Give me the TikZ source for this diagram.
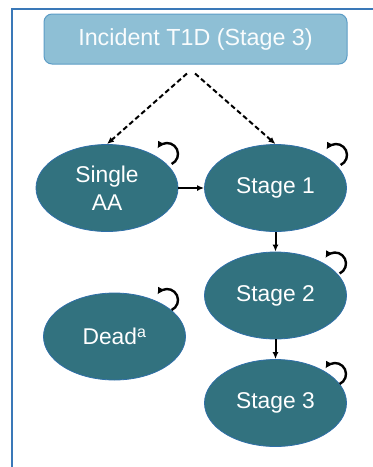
\documentclass[tikz,border=0pt]{standalone}
\usepackage{fontspec}
\setmainfont{Liberation Sans}
\usetikzlibrary{shapes.geometric,arrows.meta}
\definecolor{framecol}{HTML}{3A78B8}
\definecolor{topfill}{HTML}{8EBFD5}
\definecolor{topline}{HTML}{5C9CC6}
\definecolor{statefill}{HTML}{32727F}
\definecolor{stateline}{HTML}{2F6FA8}
\tikzset{statenode/.style={ellipse,draw=stateline,line width=0.8pt,fill=statefill,text=white,
    minimum width=142pt,minimum height=87pt,align=center,font=\fontsize{22.8}{28}\selectfont},
  topbox/.style={rectangle,rounded corners=8pt,draw=topline,line width=1pt,fill=topfill,
    text=white!95!topfill,minimum width=303pt,minimum height=50pt,font=\fontsize{23.3}{27}\selectfont},
  flow/.style={line width=2pt,-{Latex[length=7pt,width=6pt]}},
  dasharrow/.style={line width=2pt,dash pattern=on 5pt off 3pt,-{Latex[length=7pt,width=6pt]}},
  selfloop/.style={line width=2.4pt,-{Latex[length=7pt,width=7pt]}}}

\begin{document}
\begin{tikzpicture}[x=1pt,y=1pt]
\useasboundingbox (0,0) rectangle (373,-467);
\draw[framecol,line width=1.6pt] (12,-467) -- (12,-9) -- (373,-9);
\node (top) [topbox] at (195.5,-39) {Incident T1D (Stage 3)};
\node (sa) [statenode] at (107,-188) {Single\\AA};
\node (s1) [statenode] at (275.5,-188) {Stage 1};
\node (s2) [statenode] at (275.5,-295.5) {Stage 2};
\node (dead) [statenode] at (114.5,-336.5) {Dead\textsuperscript{a}};
\node (s3) [statenode] at (275.5,-403) {Stage 3};
% transitions
\draw[dasharrow] ([shift={(-8.5,-9)}]top.south) -- (sa.north);
\draw[dasharrow] ([shift={(-0.5,-9)}]top.south) -- (s1.north);
\draw[flow] (sa) -- (s1);
\draw[flow] (s1) -- (s2);
\draw[flow] (s2) -- (s3);
% stay in state
\draw[selfloop] ([shift={(60,34)}]sa.center) ++(-65:11pt) arc[start angle=-65,end angle=150,radius=11pt];
\draw[selfloop] ([shift={(60.5,33)}]s1.center) ++(-65:11pt) arc[start angle=-65,end angle=150,radius=11pt];
\draw[selfloop] ([shift={(59.5,32)}]s2.center) ++(-65:11pt) arc[start angle=-65,end angle=150,radius=11pt];
\draw[selfloop] ([shift={(52.5,36.5)}]dead.center) ++(-65:11pt) arc[start angle=-65,end angle=150,radius=11pt];
\draw[selfloop] ([shift={(59.5,29)}]s3.center) ++(-65:11pt) arc[start angle=-65,end angle=150,radius=11pt];
\end{tikzpicture}
\end{document}
